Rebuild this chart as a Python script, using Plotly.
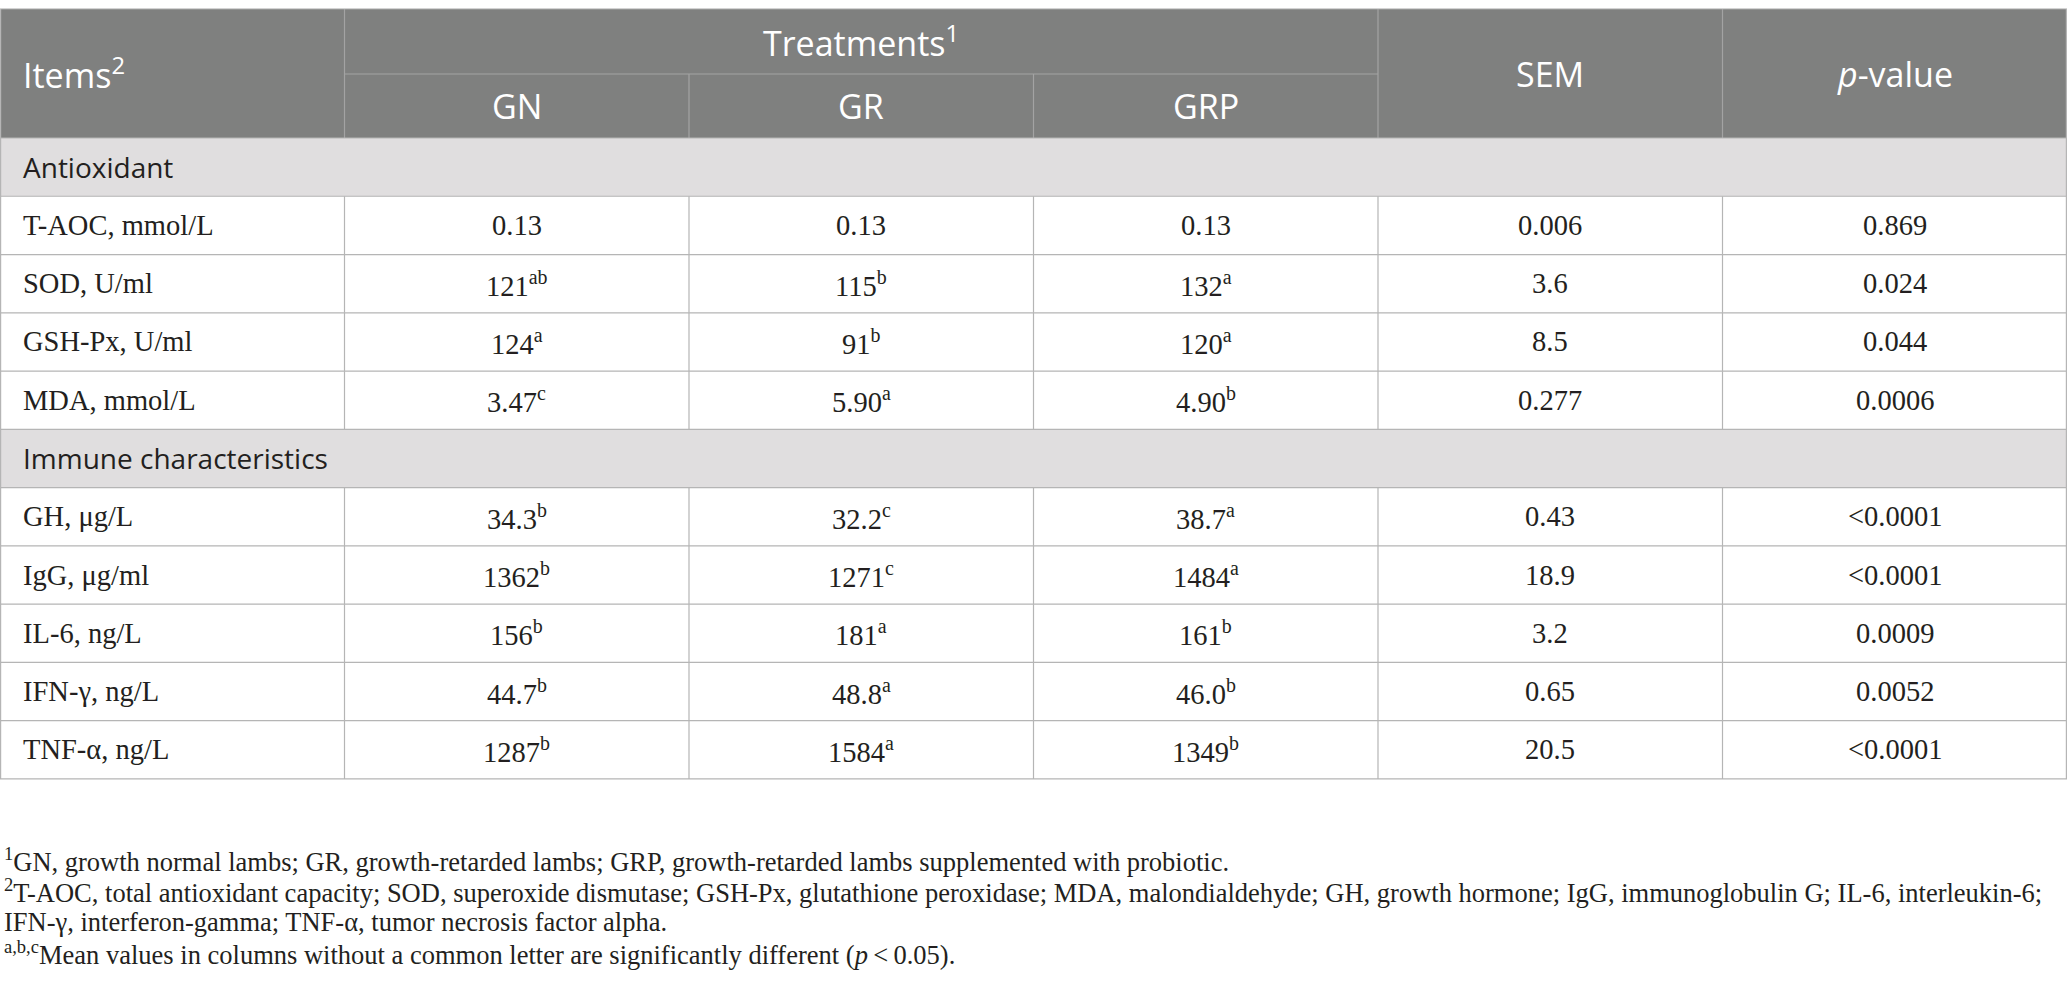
import plotly.graph_objects as go

# ---- table content ----
treat_cols = ["GN", "GR", "GRP"]
section_names = ["Antioxidant", "Immune characteristics"]
section_counts = [4, 5]
items = ["T-AOC, mmol/L", "SOD, U/ml", "GSH-Px, U/ml", "MDA, mmol/L",
         "GH, μg/L", "IgG, μg/ml", "IL-6, ng/L", "IFN-γ, ng/L", "TNF-α, ng/L"]
gn = ["0.13", "121", "124", "3.47", "34.3", "1362", "156", "44.7", "1287"]
gn_sup = ["", "ab", "a", "c", "b", "b", "b", "b", "b"]
gr = ["0.13", "115", "91", "5.90", "32.2", "1271", "181", "48.8", "1584"]
gr_sup = ["", "b", "b", "a", "c", "c", "a", "a", "a"]
grp = ["0.13", "132", "120", "4.90", "38.7", "1484", "161", "46.0", "1349"]
grp_sup = ["", "a", "a", "b", "a", "a", "b", "b", "b"]
sem = ["0.006", "3.6", "8.5", "0.277", "0.43", "18.9", "3.2", "0.65", "20.5"]
p_values = ["0.869", "0.024", "0.044", "0.0006", "<0.0001", "<0.0001",
            "0.0009", "0.0052", "<0.0001"]
footnotes = [
    "<sup>1</sup>GN, growth normal lambs; GR, growth-retarded lambs; GRP, growth-retarded lambs supplemented with probiotic.",
    "<sup>2</sup>T-AOC, total antioxidant capacity; SOD, superoxide dismutase; GSH-Px, glutathione peroxidase; MDA, malondialdehyde; GH, growth hormone; IgG, immunoglobulin G; IL-6, interleukin-6;",
    "IFN-γ, interferon-gamma; TNF-α, tumor necrosis factor alpha.",
    "<sup>a,b,c</sup>Mean values in columns without a common letter are significantly different (<i>p</i>\u2009&lt;\u20090.05).",
]

# ---- layout / style ----
W, H = 2067, 998
n_cols = 6
col_w = W / n_cols
edges = [i * col_w for i in range(n_cols + 1)]
top, head_mid, head_bot = 9, 74, 138
row_h = 58.27
pad = 21
foot_y0, foot_dy = 860, 31

HEAD_BG = "#7f807f"
HEAD_LINE = "#a3a3a3"
SEC_BG = "#e0dedf"
BODY_LINE = "#b5b5b5"
TEXT = "#231f20"
SANS = "Open Sans"
SERIF = "Liberation Serif"
HEAD_SIZE, SEC_SIZE, BODY_SIZE, FOOT_SIZE = 34, 28, 28.5, 26.5


def cell(v, s):
    v = v.replace("<", "&lt;")
    return v + ("<sup>" + s + "</sup>" if s else "")


shapes = []
annos = []


def hline(y, x0, x1, color):
    shapes.append(dict(type="line", xref="x", yref="y", x0=x0, x1=x1, y0=y, y1=y,
                       line=dict(color=color, width=1.2)))


def vline(x, y0, y1, color):
    shapes.append(dict(type="line", xref="x", yref="y", x0=x, x1=x, y0=y0, y1=y1,
                       line=dict(color=color, width=1.2)))


def text(x, y, s, anchor, size, color, family):
    annos.append(dict(x=x, y=y, xref="x", yref="y", text=s, showarrow=False,
                      xanchor=anchor, yanchor="middle",
                      font=dict(size=size, color=color, family=family)))


# header block
shapes.append(dict(type="rect", xref="x", yref="y", x0=0, x1=W, y0=top, y1=head_bot,
                   fillcolor=HEAD_BG, line=dict(width=0), layer="below"))
hline(head_mid, edges[1], edges[4], HEAD_LINE)
for i in (1, 4, 5):
    vline(edges[i], top, head_bot, HEAD_LINE)
for i in (2, 3):
    vline(edges[i], head_mid, head_bot, HEAD_LINE)

hy = (top + head_bot) / 2
text(pad, hy, "Items<sup>2</sup>", "left", HEAD_SIZE, "white", SANS)
text((edges[1] + edges[4]) / 2, (top + head_mid) / 2, "Treatments<sup>1</sup>",
     "center", HEAD_SIZE, "white", SANS)
for j, name in enumerate(treat_cols):
    text((edges[1 + j] + edges[2 + j]) / 2, (head_mid + head_bot) / 2, name,
         "center", HEAD_SIZE, "white", SANS)
text((edges[4] + edges[5]) / 2, hy, "SEM", "center", HEAD_SIZE, "white", SANS)
text((edges[5] + edges[6]) / 2, hy, "<i>p</i>-value", "center", HEAD_SIZE, "white", SANS)

# body rows
rows = []
k = 0
for name, cnt in zip(section_names, section_counts):
    rows.append(("section", name))
    for _ in range(cnt):
        rows.append(("item", k))
        k += 1

hline(head_bot, 0, W, BODY_LINE)
for r, (kind, val) in enumerate(rows):
    y0 = head_bot + r * row_h
    y1 = y0 + row_h
    yc = (y0 + y1) / 2
    if kind == "section":
        shapes.append(dict(type="rect", xref="x", yref="y", x0=0, x1=W, y0=y0, y1=y1,
                           fillcolor=SEC_BG, line=dict(width=0), layer="below"))
        text(pad, yc, val, "left", SEC_SIZE, TEXT, SANS)
    else:
        for i in range(1, n_cols):
            vline(edges[i], y0, y1, BODY_LINE)
        i = val
        cells = [cell(gn[i], gn_sup[i]), cell(gr[i], gr_sup[i]),
                 cell(grp[i], grp_sup[i]), cell(sem[i], ""), cell(p_values[i], "")]
        text(pad, yc, items[i], "left", BODY_SIZE, TEXT, SERIF)
        for j, c in enumerate(cells):
            text((edges[1 + j] + edges[2 + j]) / 2, yc, c, "center", BODY_SIZE, TEXT, SERIF)
    hline(y1, 0, W, BODY_LINE)

bottom = head_bot + len(rows) * row_h
hline(top, 0, W, "#a8a8a8")
vline(0.6, top, bottom, BODY_LINE)
vline(W - 0.6, top, bottom, BODY_LINE)

# footnotes
for n, line in enumerate(footnotes):
    text(2, foot_y0 + n * foot_dy, line, "left", FOOT_SIZE, TEXT, SERIF)

fig = go.Figure(go.Scatter(x=[], y=[]))
fig.update_layout(
    width=W, height=H,
    margin=dict(l=0, r=0, t=0, b=0),
    paper_bgcolor="white", plot_bgcolor="white",
    xaxis=dict(range=[0, W], visible=False, fixedrange=True),
    yaxis=dict(range=[H, 0], visible=False, fixedrange=True),
    shapes=shapes, annotations=annos, showlegend=False,
)
# drop the default page margin so the figure sits flush with the window
fig.write_html("out.html", config={"displayModeBar": False},
               post_script="document.body.style.margin='0';")
